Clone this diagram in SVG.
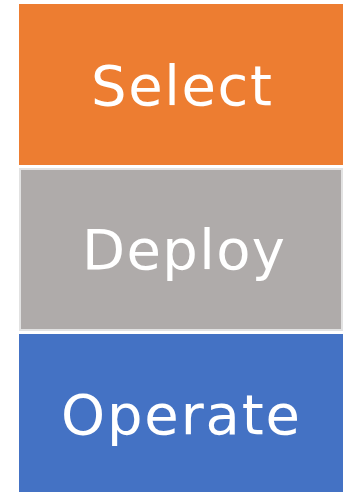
<svg xmlns="http://www.w3.org/2000/svg" width="350" height="492" viewBox="0 0 350 492">
  <style>
    .lbl { font-family: "DejaVu Sans", "Open Sans", sans-serif; font-size: 56px; fill: #ffffff; text-anchor: middle; }
  </style>
  <rect width="350" height="492" fill="#ffffff"/>
  <g id="select">
    <rect x="19" y="4" width="324" height="161" fill="#ED7D31"/>
    <text class="lbl" x="181.5" y="105" textLength="181">Select</text>
  </g>
  <g id="deploy">
    <rect x="20" y="169" width="322" height="161" fill="#AFABAA" stroke="#E2E2E2" stroke-width="2"/>
    <text class="lbl" x="183.5" y="269" textLength="203">Deploy</text>
  </g>
  <g id="operate">
    <rect x="19" y="334" width="324" height="158" fill="#4472C4"/>
    <text class="lbl" x="180.5" y="434" textLength="239">Operate</text>
  </g>
  <g id="connectors"></g>
</svg>
